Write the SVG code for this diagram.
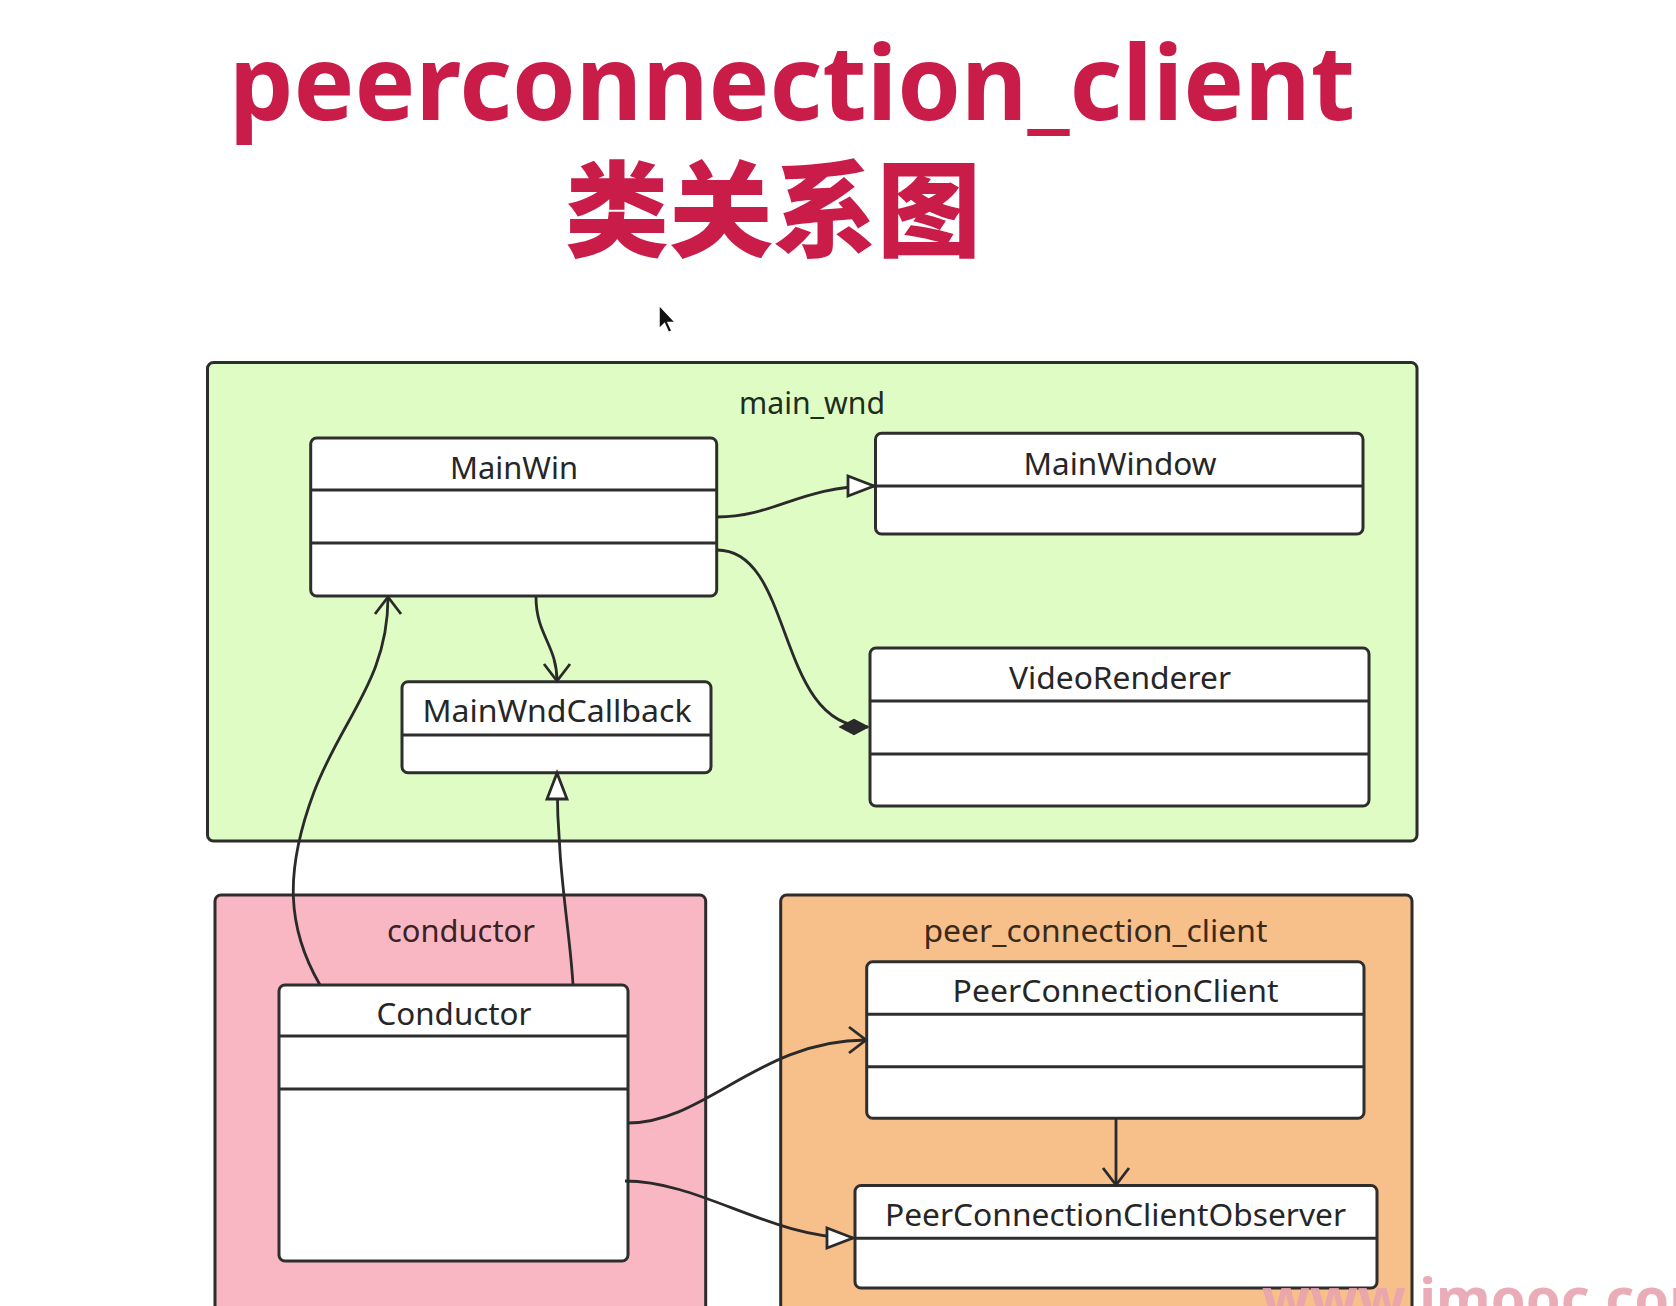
<svg xmlns="http://www.w3.org/2000/svg" width="1676" height="1306" viewBox="0 0 1676 1306">
<style>
.title{font-family:"Noto Sans","Open Sans","Liberation Sans",sans-serif;font-weight:700;fill:#C91C48}
.cjk{font-family:"Noto Sans CJK SC","Noto Sans",sans-serif;font-weight:900;fill:#C91C48}
.grp{stroke:#2c2c2c;stroke-width:3}
.box{fill:#ffffff;stroke:#2e2e2e;stroke-width:3}
.div{stroke:#2e2e2e;stroke-width:3}
.lbl{font-family:"Noto Sans","Open Sans","Liberation Sans",sans-serif;font-size:30px;fill:#262626;text-anchor:middle}
.conn{fill:none;stroke:#2a2a2a;stroke-width:2.8}
</style>
<defs>
<marker id="open" markerUnits="userSpaceOnUse" markerWidth="60" markerHeight="60" viewBox="-30 -30 60 60" refX="0" refY="0" orient="auto">
<path d="M-17,-13 L0,0 L-17,13" fill="none" stroke="#2a2a2a" stroke-width="2.8"/>
</marker>
<marker id="tri" markerUnits="userSpaceOnUse" markerWidth="60" markerHeight="60" viewBox="-30 -30 60 60" refX="0" refY="0" orient="auto">
<path d="M0,0 L-26,-10 L-26,10 Z" fill="#ffffff" stroke="#2a2a2a" stroke-width="2.8"/>
</marker>
<marker id="dia" markerUnits="userSpaceOnUse" markerWidth="60" markerHeight="60" viewBox="-30 -30 60 60" refX="0" refY="0" orient="auto">
<path d="M0,0 L-14,-7.5 L-28,0 L-14,7.5 Z" fill="#2a2a2a" stroke="#2a2a2a" stroke-width="1.5"/>
</marker>
</defs>
<rect width="1676" height="1306" fill="#ffffff"/>

<g id="title">
<text class="title" x="229" y="120" font-size="104" textLength="1126" lengthAdjust="spacingAndGlyphs">peerconnection_client</text>
<text class="cjk" x="773" y="249" font-size="104" text-anchor="middle">类关系图</text>
</g>

<g id="cursor">
<path d="M659,305 L659,329 L664.5,323.5 L668.5,332.5 L672,331 L668,322.5 L675.5,322.5 Z" fill="#111111" stroke="#ffffff" stroke-width="1.5"/>
</g>

<g id="group-main_wnd">
<rect class="grp" x="207.5" y="362.5" width="1209.5" height="478.5" rx="6" fill="#DEFCC4"/>
<text class="lbl" x="812" y="414" style="fill:#1f2d1c" textLength="146" lengthAdjust="spacingAndGlyphs">main_wnd</text>
</g>

<g id="group-conductor">
<rect class="grp" x="215" y="895" width="490.7" height="440" rx="6" fill="#F9B7C3"/>
<text class="lbl" x="461" y="941.7" style="fill:#3a2227" textLength="148" lengthAdjust="spacingAndGlyphs">conductor</text>
</g>

<g id="group-peer_connection_client">
<rect class="grp" x="780.7" y="895" width="631.3" height="440" rx="6" fill="#F7BF8A"/>
<text class="lbl" x="1095.5" y="941.7" style="fill:#3a2a1c" textLength="344" lengthAdjust="spacingAndGlyphs">peer_connection_client</text>
</g>

<g id="node-MainWin">
<rect class="box" x="310.7" y="438" width="406" height="158" rx="6"/>
<line class="div" x1="310.7" y1="490" x2="716.7" y2="490"/>
<line class="div" x1="310.7" y1="543" x2="716.7" y2="543"/>
<text class="lbl" x="514" y="479" textLength="128" lengthAdjust="spacingAndGlyphs">MainWin</text>
</g>

<g id="node-MainWindow">
<rect class="box" x="875.5" y="433.3" width="487.5" height="100.7" rx="6"/>
<line class="div" x1="875.5" y1="486" x2="1363" y2="486"/>
<text class="lbl" x="1120" y="475" textLength="193" lengthAdjust="spacingAndGlyphs">MainWindow</text>
</g>

<g id="node-VideoRenderer">
<rect class="box" x="870" y="648" width="499" height="158" rx="6"/>
<line class="div" x1="870" y1="701" x2="1369" y2="701"/>
<line class="div" x1="870" y1="754" x2="1369" y2="754"/>
<text class="lbl" x="1120" y="689" textLength="222" lengthAdjust="spacingAndGlyphs">VideoRenderer</text>
</g>

<g id="node-MainWndCallback">
<rect class="box" x="402" y="681.7" width="309" height="91" rx="6"/>
<line class="div" x1="402" y1="735" x2="711" y2="735"/>
<text class="lbl" x="557" y="721.7" textLength="269" lengthAdjust="spacingAndGlyphs">MainWndCallback</text>
</g>

<g id="node-Conductor">
<rect class="box" x="279" y="985" width="349" height="276" rx="6"/>
<line class="div" x1="279" y1="1036" x2="628" y2="1036"/>
<line class="div" x1="279" y1="1089" x2="628" y2="1089"/>
<text class="lbl" x="454" y="1025" textLength="155" lengthAdjust="spacingAndGlyphs">Conductor</text>
</g>

<g id="node-PeerConnectionClient">
<rect class="box" x="866.7" y="961.7" width="497.3" height="156.6" rx="6"/>
<line class="div" x1="866.7" y1="1014.3" x2="1364" y2="1014.3"/>
<line class="div" x1="866.7" y1="1066.7" x2="1364" y2="1066.7"/>
<text class="lbl" x="1115.6" y="1001.7" textLength="326" lengthAdjust="spacingAndGlyphs">PeerConnectionClient</text>
</g>

<g id="node-PeerConnectionClientObserver">
<rect class="box" x="855" y="1185.5" width="522" height="102.5" rx="6"/>
<line class="div" x1="855" y1="1238.3" x2="1377" y2="1238.3"/>
<text class="lbl" x="1115.5" y="1226" textLength="461" lengthAdjust="spacingAndGlyphs">PeerConnectionClientObserver</text>
</g>

<g id="connectors">
<path class="conn" d="M717,517 C775,517 800,486 874,486" marker-end="url(#tri)"/>
<path class="conn" d="M717,550 C795,550 775,727 868,727" marker-end="url(#dia)"/>
<path class="conn" d="M536,597 C536,635 557,645 557,681" marker-end="url(#open)"/>
<path class="conn" d="M320,985 C287,928 284,872 314,792 C342,718 388,680 388,597" marker-end="url(#open)"/>
<path class="conn" d="M573,985 C570,930 557,870 557,773" marker-end="url(#tri)"/>
<path class="conn" d="M628,1123 C705,1123 760,1040 866,1040" marker-end="url(#open)"/>
<path class="conn" d="M625,1181 C700,1181 770,1238 853,1238" marker-end="url(#tri)"/>
<path class="conn" d="M1116,1118 L1116,1185" marker-end="url(#open)"/>
</g>

<g id="watermark">
<text x="1262" y="1318" font-family="Noto Sans, Liberation Sans, sans-serif" font-weight="700" font-size="56" fill="#E8A3AE" fill-opacity="0.9">www.imooc.com</text>
</g>
</svg>
